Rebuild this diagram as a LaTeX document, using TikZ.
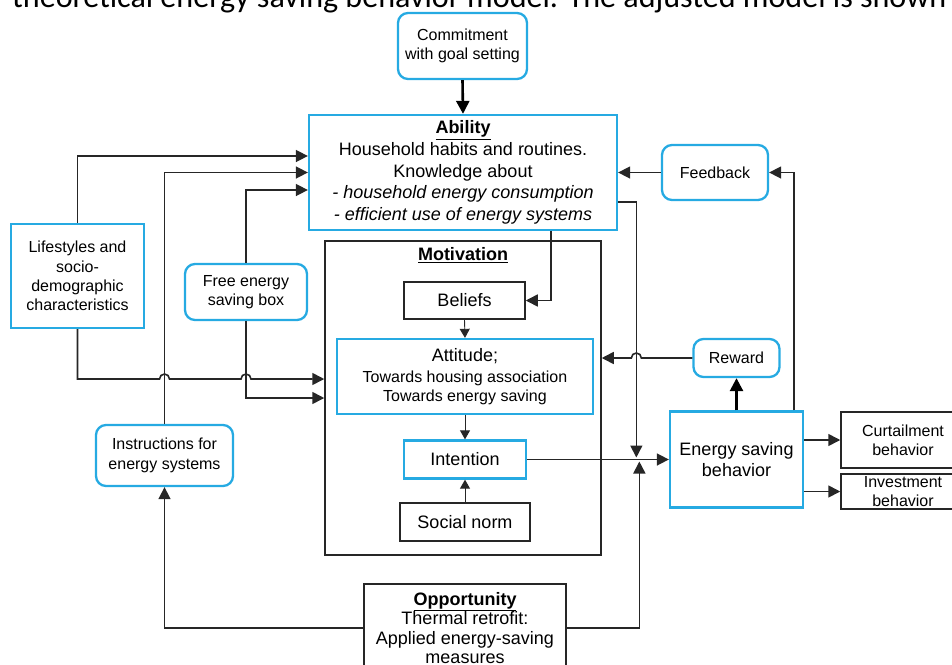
\documentclass[tikz,border=0pt]{standalone}
\usepackage{fontspec}
\setmainfont{Liberation Sans}
\newfontfamily\capfont{Carlito}
\usetikzlibrary{arrows.meta,calc}
\definecolor{boxcyan}{RGB}{38,170,226}
\tikzset{
  big/.style={font=\fontsize{18}{21.7}\selectfont, align=center, inner sep=0pt},
  small/.style={font=\fontsize{16}{19.3}\selectfont, align=center, inner sep=0pt},
  cbox/.style={draw=boxcyan, line width=2.3pt},
  rbox/.style={draw=boxcyan, line width=2.3pt, rounded corners=10pt},
  kbox/.style={draw=black!85, line width=1.5pt},
  conn/.style={draw=black!85, line width=1.6pt},
  arr/.style={conn, -{Triangle[length=12pt,width=12pt]}},
  fatarr/.style={draw=black, line width=2.6pt, -{Triangle[length=13pt,width=13pt]}},
  thinarr/.style={draw=black!85, line width=0.9pt, -{Triangle[length=9pt,width=10pt]}},
}
\begin{document}
\begin{tikzpicture}[x=1pt, y=-1pt]
\useasboundingbox (0,0) rectangle (952,664);
\clip (0,0) rectangle (952,664);

% running text line above the figure
\node[anchor=base west, inner sep=0pt, font=\capfont\fontsize{32.1}{36}\selectfont] (caption) at (12,7.5)
  {theoretical energy saving behavior model. The adjusted model is shown};

% boxes
\node[rbox, small, minimum width=129pt, minimum height=66pt] (commit) at (462.5,46) {Commitment\\with goal setting};
\node[cbox, big, minimum width=308pt, minimum height=115pt] (abil) at (463,172.5)
  {\underline{\textbf{Ability}}\\Household habits and routines.\\Knowledge about\\\textit{- household energy consumption}\\\textit{- efficient use of energy systems}};
\node[rbox, small, minimum width=106pt, minimum height=55pt] (feed) at (715,172.5) {Feedback};
\node[cbox, small, minimum width=133pt, minimum height=104pt] (life) at (77.5,276) {Lifestyles and\\socio-\\demographic\\characteristics};
\node[rbox, small, minimum width=122pt, minimum height=56pt] (free) at (246,292) {Free energy\\saving box};
\node[rbox, small, minimum width=137pt, minimum height=61pt] (instr) at (164.5,455.5) {Instructions for\\energy systems};

\node[kbox, minimum width=276pt, minimum height=314pt] (mot) at (463,398) {};
\node[big] (motlbl) at (463,255) {\underline{\textbf{Motivation}}};
\node[kbox, big, minimum width=121pt, minimum height=37pt] (beliefs) at (464.5,300.5) {Beliefs};
\node[cbox, font=\fontsize{16}{19}\selectfont, align=center, inner sep=0pt, minimum width=256pt, minimum height=75pt] (att) at (465,376.5)
  {{\fontsize{18}{21}\selectfont Attitude;}\\[2pt]Towards housing association\\Towards energy saving};
\node[cbox, big, minimum width=122pt, minimum height=38pt] (intent) at (465,459.5) {Intention};
\node[kbox, big, minimum width=130pt, minimum height=38pt] (social) at (465,522) {Social norm};

\node[kbox, font=\fontsize{18}{19.5}\selectfont, align=center, inner sep=0pt, minimum width=202pt, minimum height=88pt] (opp) at (465,628)
  {\underline{\textbf{Opportunity}}\\Thermal retrofit:\\Applied energy-saving\\measures};

\node[rbox, small, minimum width=86pt, minimum height=38pt] (reward) at (736.5,358) {Reward};
\node[cbox, font=\fontsize{18}{20.5}\selectfont, align=center, inner sep=0pt, minimum width=133pt, minimum height=96pt] (esb) at (736.5,459.5) {Energy saving\\behavior};
\node[kbox, small, minimum width=124pt, minimum height=56pt] (curt) at (903,440) {Curtailment\\behavior};
\node[kbox, small, minimum width=124pt, minimum height=35pt] (inv) at (903,491.5) {Investment\\behavior};

% meeting point of the arrows in front of the behaviour box
\coordinate (join) at ([xshift=-31pt]esb.west);

% connectors into Ability
\draw[fatarr] (commit.south) -- (abil.north);
\draw[arr] (life.north) |- ([yshift=16.5pt]abil.west);
\draw[arr] (instr.north) |- (abil.west);
\draw[arr] (free.north) |- ([yshift=-17.5pt]abil.west);
\draw[arr] (feed.west) -- (abil.east);

% connectors into Motivation (with line jumps)
\coordinate (lsin) at ([yshift=19pt]mot.west);
\draw[arr] (life.south) -- (life.south |- lsin)
  -- ([xshift=-5pt]instr.north |- lsin) arc[start angle=180, end angle=0, radius=5pt]
  -- ([xshift=-5pt]free.south |- lsin) arc[start angle=180, end angle=0, radius=5pt]
  -- (lsin);
\draw[arr] (free.south) |- (mot.west);
\draw[arr] ([xshift=88pt]abil.south) |- (beliefs.east);
\draw[arr] (reward.west) -- ([xshift=3.5pt]join |- reward.west)
  arc[start angle=0, end angle=180, radius=5pt]
  -- (mot.east |- reward.west);

% inside Motivation
\draw[thinarr] (beliefs.south) -- (att.north);
\draw[thinarr] (att.south) -- (intent.north);
\draw[thinarr] (social.north) -- (intent.south);

% towards energy saving behaviour
\draw[arr] (intent.east) -- (esb.west);
\draw[arr] ([yshift=-29.5pt]abil.east) -| ([xshift=-1.5pt,yshift=2pt]join);
\draw[arr] (opp.east) -| ([xshift=1.5pt,yshift=-2pt]join);
\draw[arr] (opp.west) -| (instr.south);

% out of energy saving behaviour
\draw[fatarr] (esb.north) -- (reward.south);
\draw[arr] ([xshift=57.5pt]esb.north) |- (feed.east);
\draw[arr] (esb.east |- curt.west) -- (curt.west);
\draw[arr] (esb.east |- inv.west) -- (inv.west);
\end{tikzpicture}
\end{document}
